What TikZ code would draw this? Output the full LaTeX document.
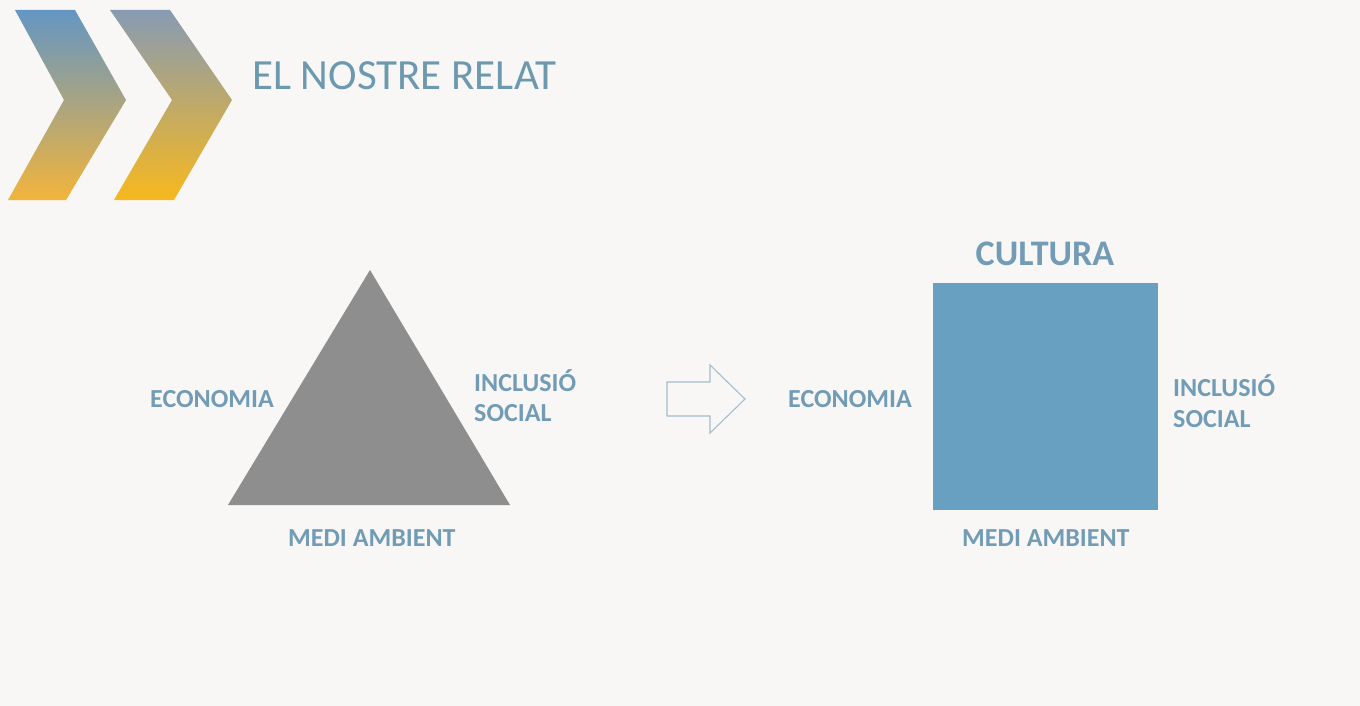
\documentclass[tikz,border=0pt]{standalone}
\usepackage{fontspec}
\setmainfont{Carlito}
\definecolor{bgc}{RGB}{248,247,246}
\definecolor{labc}{RGB}{114,156,182}
\definecolor{titc}{RGB}{108,153,175}
\definecolor{trif}{RGB}{143,142,143}
\definecolor{sqf}{RGB}{104,160,194}
\definecolor{arrc}{RGB}{165,190,204}
\definecolor{chtop}{RGB}{100,150,195}
\definecolor{chmid}{RGB}{172,162,166}
\definecolor{chbot}{RGB}{242,180,60}
\definecolor{chtopb}{RGB}{135,155,180}
\definecolor{chmidb}{RGB}{200,170,140}
\definecolor{chbotb}{RGB}{247,184,30}
\tikzset{
  lab/.style={font=\fontsize{26}{30}\selectfont\bfseries, text=labc, inner sep=0pt, anchor=base west},
}
\begin{document}
\begin{tikzpicture}[x=1pt,y=-1pt]
\useasboundingbox (0,0) rectangle (1360,706);
\fill[bgc] (0,0) rectangle (1360,706);
% chevrons
\shade[top color=chtop, middle color=chmid, bottom color=chbot]
  (15,10) -- (75,10) -- (126,100) -- (66,200) -- (8,200) -- (64,100) -- cycle;
\shade[top color=chtopb, middle color=chmidb, bottom color=chbotb]
  (110,10) -- (170,10) -- (232,100) -- (174,200) -- (114,200) -- (172,100) -- cycle;
% title
\node[font=\fontsize{43}{48}\selectfont, text=titc, inner sep=0pt, anchor=base west] (title) at (252,90) {EL NOSTRE RELAT};
% triangle
\fill[trif] (370,270) -- (510,505) -- (228,505) -- cycle;
\node[lab] (econ1) at (150,407) {ECONOMIA};
\node[lab] (incl1) at (474,391) {INCLUSIÓ};
\node[lab] (soc1) at (474,421) {SOCIAL};
\node[lab] (medi1) at (288,546) {MEDI AMBIENT};
% arrow
\draw[arrc, line width=1.1pt, line join=miter]
  (667,382) -- (710,382) -- (710,365) -- (745,399) -- (710,433) -- (710,416) -- (667,416) -- cycle;
% square
\node[fill=sqf, minimum width=225pt, minimum height=227pt, inner sep=0pt, anchor=north west] (sq) at (933,283) {};
\node[font=\fontsize{36}{40}\selectfont\bfseries, text=labc, inner sep=0pt, anchor=base] (cult) at (1045,265) {CULTURA};
\node[lab] (econ2) at (788,407) {ECONOMIA};
\node[lab] (incl2) at (1173,396) {INCLUSIÓ};
\node[lab] (soc2) at (1173,427) {SOCIAL};
\node[lab] (medi2) at (962,546) {MEDI AMBIENT};
\end{tikzpicture}
\end{document}
